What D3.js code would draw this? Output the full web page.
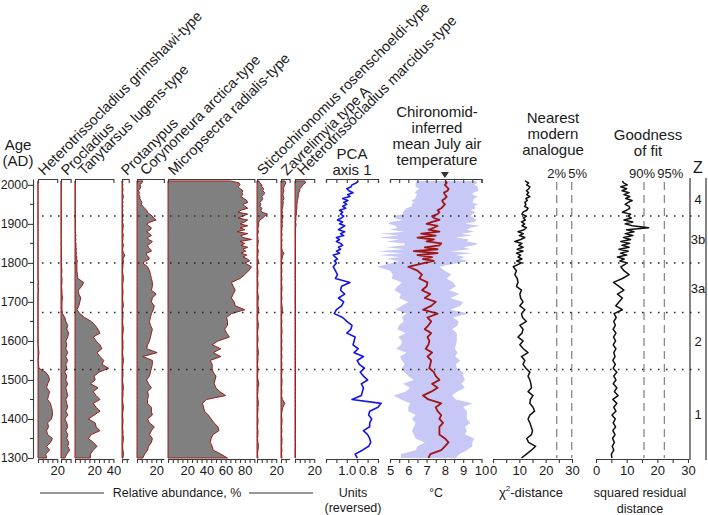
<!DOCTYPE html>
<html><head><meta charset="utf-8">
<script src="https://cdn.jsdelivr.net/npm/d3@7"></script>
<style>
body{margin:0;background:#fff;}
text{font-family:"Liberation Sans",Arial,Helvetica,sans-serif;fill:#1a1a1a;}
</style></head><body>
<svg id="chart" width="708" height="515"></svg>
<script>
// ---------------- DATA ----------------
const ages = [
1300,1310,1320,1330,1340,1350,1360,1370,1380,1390,
1400,1410,1420,1430,1440,1450,1460,1470,1480,1490,
1500,1510,1520,1530,1540,1550,1560,1570,1580,1590,
1600,1610,1620,1630,1640,1650,1660,1670,1680,1690,
1700,1710,1720,1730,1740,1750,1760,1770,1780,1790,
1800,1805,1810,1815,1820,1825,1830,1835,1840,1845,
1850,1855,1860,1865,1870,1875,1880,1885,1890,1895,
1900,1905,1910,1915,1920,1925,1930,1935,1940,1945,
1950,1955,1960,1965,1970,1975,1980,1985,1990,1995,
2000,2005,2010];

const taxaNames = ["Heterotrissocladius grimshawi-type","Procladius","Tanytarsus lugens-type",
  "Protanypus","Corynoneura arctica-type","Micropsectra radialis-type",
  "Stictochironomus rosenschoeldi-type","Zavrelimyia type A","Heterotrissocladius marcidus-type"];
const taxaMax = [20, 10, 40, 7, 28, 90, 20, 9, 20];

const grimshawi = [
9,8,12,9,13,15,10,9,11,10,
14,15,15,14,13,10,11,12,9,10,
12,11,8,1,0.5,0,0.5,1,0.5,0,
0,0,0,0,0,0,0,0,0,0,
0,0,0,0.5,0,0.5,0,0,0,0,
0,0,0,0,0,0,0,0,0,0,
0,0,0,0,0,0,0,0,0,0,
0,0,0,0,0,0,0,0,0,0,
0,0,0,0,0,0,0,0,0,0,
0,0,0];
const procladius = [
4,6,9,7,8,6,7,5,7,6,
4,7,5,7,6,5,7,6,5,7,
5,6,4,6,5,7,5,7,5,6,
5,7,8,6,7,5,4,1.5,1,1,
1,1.5,1,1,0.5,1,1,0.5,1,0.5,
0.5,0.3,0.5,0.3,0.5,0.3,0.5,0.3,0.5,0.3,
0.3,0.3,0.5,0.3,0.3,0.3,0.3,0.3,0.3,0.3,
0.3,0.3,0.3,0.3,0.3,0.3,0.3,0.3,0.3,0.3,
0.3,0.3,0.3,0.3,0.3,0.3,0.3,0.3,0.3,0.3,
0.3,0.3,0.3];
const tanytarsus = [
16,16,19,23,19,14,17,26,22,21,
14,20,26,22,19,26,22,19,24,16,
21,20,25,35,28,30,26,23,28,26,
22,19,26,24,21,17,10,5,2,4,
5,6,4,3.5,7,9,3,2.5,2,2,
2,2.5,1.5,2,1,1.5,1,1.5,1,1,
1,0.5,1,0.5,1,0.5,0.5,0.3,0.5,0.3,
0.3,0.3,0.3,0.3,0.3,0.3,0.3,0.3,0.3,0.3,
0.3,0.3,0.3,0.3,0.3,0.3,0.3,0.3,0.3,0.3,
0.3,0.3,0.3];
const protanypus = [
1,1.5,1,0.5,1,1.5,1,1,0.5,1,
1,0.5,1,1.5,1,0.5,1,1,1.5,1,
0.5,1,1,0.5,1,1.5,1,0.5,1,1,
1,0.5,1,1.5,1,0.5,1,1,0.5,1.5,
1,0.5,1,1,0.5,1,1.5,1,0.5,1,
1,1.5,1,2,3,1.5,1,0.5,1,1.5,
1,0.5,1,1,1.5,1,0.5,1,1,1.5,
1,0.5,1,0.5,1,1,0.5,1,0.5,1,
0.5,1,0.5,1,1.5,1,0.5,1,1,0.5,
1,0.5,1];
const corynoneura = [
6,8,11,12,15,16,13,15,18,13,
11,16,15,15,11,11,12,11,15,12,
10,13,14,15,16,16,6,21,10,11,
13,14,15,16,14,13,14,15,17,18,
15,16,20,15,16,16,15,14,13,11,
6,9,13,12,10,10,15,14,12,11,
14,16,12,11,15,13,10,14,15,12,
10,14,20,17,16,13,11,10,8,6,
4.5,5,4,3,3,2,2.5,1.5,3,4,
3,5,6];
const micropsectra = [
62,55,47,46,44,45,47,53,52,48,
45,42,38,37,36,40,60,54,50,48,
49,50,47,46,46,44,55,47,55,46,
52,64,61,59,62,62,61,66,80,70,
69,66,68,70,68,66,75,80,84,87,
80,85,83,78,82,76,81,78,83,76,
80,75,87,78,76,83,72,80,75,83,
75,80,83,73,78,83,73,76,83,80,
78,83,82,79,76,78,77,78,75,73,
75,74,65];
const sticto = [
1,0.5,1,1.5,1,0.5,1,1,0.5,1,
1,0.5,1,1,1.5,1,0.5,1,1,2,
1,0.5,1,1,0.5,1,1,1.5,1,0.5,
1,1,0.5,1,1.5,1,0.5,1,2,1,
1,1.5,1,0.5,1,1,0.5,1,1,0.5,
1,1.5,1,0.5,1,1,1.5,1,0.5,1,
1,1.5,1,1,0.5,1,1.5,1,1,2,
1.5,2,3,6,8,11,5,4,5,3,
4,3,5,6,5,7,8,6,7,5,
5,3,2];
const zavrelimyia = [
1,0.5,1,0.5,1,1,0.5,1,0.5,1,
1,0.5,1,2,4,1.5,0.5,1,0.5,1,
1,0.5,1,0.5,1,0.5,1,0.5,1,0.5,
1,0.5,1,1,0.5,1,0.5,1,1.5,1,
0.5,1,0.5,1,1,0.5,1,0.5,1,0.5,
1,0.5,1,1.5,2,3,1.5,1,0.5,1,
0.5,1,1,0.5,1,1,0.5,1,1,1.5,
1,1.5,1,2,1.5,1,1.5,1,1.5,2,
2,2.5,2,3,2.5,2,2.5,3,2.5,3,
4,5,4];
const marcidus = [
0.5,0.4,0.5,0.6,0.5,0.4,0.5,0.5,0.6,0.5,
0.5,0.4,0.5,0.6,0.5,0.5,0.4,0.5,0.6,0.5,
0.5,0.4,0.5,0.5,0.6,0.5,0.4,0.5,0.5,0.6,
0.5,0.4,0.5,0.6,0.5,0.5,0.4,0.5,0.6,0.5,
0.5,0.4,0.5,0.5,0.6,0.5,0.4,0.5,0.5,0.6,
0.5,0.4,0.5,0.6,0.5,0.5,0.4,0.5,0.6,0.5,
0.5,0.4,0.5,0.6,0.5,0.5,0.4,0.5,0.6,1,
1,0.5,1,1,1,1.5,1.5,1.5,2,2,
2,2.5,2.5,3,3.5,3.5,4,5,5,7,
8,11,10];

const pcaAxis1 = [
0.90,0.92,0.85,0.79,0.77,0.78,0.80,0.84,0.78,0.78,
0.76,0.79,0.78,0.70,0.67,0.95,0.86,0.85,0.84,0.86,
0.80,0.84,0.87,0.83,0.88,0.90,0.84,0.93,0.89,0.94,
0.93,0.92,1.00,0.96,0.95,1.00,1.04,1.12,1.10,1.05,
1.03,1.08,1.02,1.06,1.05,0.97,1.11,1.09,1.11,1.13,
1.10,1.12,1.09,1.11,1.13,1.07,1.10,1.06,1.08,1.04,
1.06,1.10,1.07,1.10,1.03,1.06,1.02,1.08,1.05,1.02,
1.07,1.04,1.09,1.05,1.03,1.06,1.04,1.07,1.01,1.04,
1.00,1.03,0.99,1.04,0.97,0.99,0.94,0.98,1.00,0.96,
0.95,0.91,0.89];

const julyTemp = [
7.1,7.2,7.8,8.0,8.2,8.0,7.7,7.7,7.7,7.9,
7.7,7.8,7.6,7.5,7.8,7.1,6.8,7.25,7.6,7.3,
7.7,7.5,7.4,7.15,7.2,7.25,7.05,7.3,6.95,7.1,
7.15,7.05,7.25,6.9,7.1,7.25,7.05,7.6,6.8,7.25,
7.5,6.9,7.2,6.75,7.0,7.05,6.6,6.75,6.5,6.0,
6.9,7.4,6.8,7.3,6.5,7.6,6.3,7.6,6.9,7.7,
7.8,7.0,7.4,6.5,7.5,6.7,7.7,7.1,7.4,7.6,
7.0,7.3,7.7,7.4,7.3,7.6,7.7,7.6,7.8,7.9,
8.0,7.9,7.85,8.0,8.1,8.0,7.95,8.15,8.2,8.1,
8.0,8.1,8.05];
const tempErr = [
1.5,1.6,1.4,1.5,1.3,1.6,1.4,1.5,1.4,1.5,
1.5,1.4,1.6,1.5,1.7,1.5,1.6,1.4,1.5,1.6,
1.4,1.5,1.6,1.5,1.4,1.6,1.5,1.4,1.6,1.5,
1.5,1.6,1.4,1.5,1.6,1.5,1.4,1.7,1.5,1.6,
1.5,1.4,1.6,1.5,1.6,1.4,1.5,1.6,1.5,1.7,
1.8,1.9,2.0,1.8,2.1,1.9,2.0,1.8,2.1,1.9,
2.0,2.2,1.9,2.1,2.0,2.2,1.9,2.1,2.0,2.3,
2.1,2.3,2.0,2.2,2.1,1.9,2.0,1.8,1.9,1.7,
1.8,1.6,1.7,1.6,1.7,1.5,1.6,1.7,1.6,1.7,
1.6,1.7,1.6];
const observedTemp = 8.0;

const nmaDist = [
10.8,12.7,14.6,16.2,13.5,12.8,14.6,15.0,14.5,14.0,
13.3,14.0,15.8,15.2,14.0,14.2,15.2,13.3,14.6,14.4,
14.0,13.3,14.0,12.5,11.4,12.1,10.8,13.3,11.5,10.2,
11.4,9.5,11.0,11.4,10.2,12.7,11.2,10.8,12.1,10.2,
11.4,10.5,10.2,10.8,8.9,9.5,9.2,8.3,8.9,7.7,
10.8,9.0,11.0,9.5,10.5,8.9,11.4,9.2,11.4,9.8,
11.0,8.3,10.5,12.1,10.0,11.5,9.5,11.8,12.7,11.0,
12.0,10.8,12.3,11.5,12.7,11.0,11.4,12.8,13.3,12.0,
12.5,12.1,13.0,12.5,14.0,12.8,13.5,12.7,13.6,14.0,
12.8,13.5,12.1];
const nmaCutoffs = [24.2, 29.9];
const nmaCutLabels = ["2%", "5%"];

const gofDist = [
5.2,5.0,5.8,5.3,6.0,5.4,6.2,5.5,6.4,5.6,
6.3,5.2,6.5,5.8,6.8,5.5,7.2,6.0,6.8,5.6,
6.5,5.8,6.8,5.6,6.3,5.5,6.2,5.8,6.5,5.6,
6.4,5.7,6.5,5.6,6.3,5.8,6.6,5.9,8.6,6.45,
7.5,8.6,7.0,9.1,7.5,5.7,8.6,10.8,9.1,8.1,
10.2,7.8,9.2,7.0,10.0,8.0,10.5,7.5,10.8,8.5,
11.0,8.1,11.3,9.0,12.0,9.5,12.4,10.0,17.2,11.8,
9.5,12.0,9.1,11.5,10.5,11.3,8.6,10.0,11.0,10.8,
9.5,10.5,11.8,9.7,11.0,9.1,10.8,8.5,10.0,8.1,
10.2,9.0,8.6];
const gofCutoffs = [15.65, 22.3];
const gofCutLabels = ["90%", "95%"];

const zoneBounds = [1527, 1673, 1800, 1920];
const zoneNames = ["1", "2", "3a", "3b", "4"];
const yTicks = [1300,1400,1500,1600,1700,1800,1900,2000];
const yMinorTicks = [1350,1450,1550,1650,1750,1850,1950];

// ---------------- LAYOUT ----------------
const FONT = '"Liberation Sans",Arial,Helvetica,sans-serif';
const svg = d3.select("#chart");
const yTop = 179, yBot = 459;
const y = d3.scaleLinear().domain([1300, 2015]).range([458, 179]);
const AXC = "#3a3a3a";
const rowsOf = vals => ages.map((a, i) => ({age: a, v: vals[i]}));

function styleAxis(g, fs) {
  g.attr("font-family", FONT).attr("font-size", fs || 13).attr("color", AXC);
  g.selectAll("path,line").attr("stroke-width", 1.1);
}

// Y axis
const ya = svg.append("g").attr("transform", "translate(33,0)")
  .call(d3.axisLeft(y).tickValues(yTicks).tickSize(5).tickSizeOuter(0).tickFormat(d3.format("d")));
styleAxis(ya, 12.3);
ya.selectAll("text").attr("x", -5);
ya.selectAll(".minor").data(yMinorTicks).enter().append("line")
  .attr("x1", -3).attr("x2", 0).attr("y1", d => y(d)).attr("y2", d => y(d))
  .attr("stroke", AXC).attr("stroke-width", 1.1);

svg.append("text").attr("x", 18).attr("y", 150).attr("text-anchor", "middle").attr("font-size", 15).text("Age");
svg.append("text").attr("x", 18).attr("y", 166).attr("text-anchor", "middle").attr("font-size", 15).text("(AD)");

// Taxa panels
const taxaVals = [grimshawi, procladius, tanytarsus, protanypus, corynoneura, micropsectra, sticto, zavrelimyia, marcidus];
const taxaX0 = [38, 61, 75, 122, 137, 168, 257, 281, 295];
const labelX = [44, 67, 84, 127, 146, 174, 263, 287, 303];
const pxPct = 0.96;

taxaVals.forEach((vals, k) => {
  const mx = taxaMax[k];
  const xs = d3.scaleLinear().domain([0, mx]).range([taxaX0[k], taxaX0[k] + mx * pxPct]);
  const area = d3.area().y(d => y(d.age)).x0(xs(0)).x1(d => xs(d.v));
  svg.append("path").datum(rowsOf(vals)).attr("d", area)
    .attr("fill", "#808080").attr("stroke", "#9a1b1b").attr("stroke-width", 1).attr("stroke-linejoin", "round");
  const ta = svg.append("g").attr("transform", `translate(0,${yTop})`)
    .call(d3.axisTop(xs).tickValues([]).tickSizeOuter(-4));
  styleAxis(ta);
  const ba = svg.append("g").attr("transform", `translate(0,${yBot})`)
    .call(d3.axisBottom(xs).tickValues(d3.range(0, mx + 0.01, 5)).tickSize(4).tickSizeOuter(0)
      .tickFormat(d => (d > 0 && d % 20 === 0) ? d : ""));
  styleAxis(ba, 13);
  svg.append("text").attr("transform", `translate(${labelX[k]},176) rotate(-45)`)
    .attr("font-size", 14.5).text(taxaNames[k]);
});

// PCA
const xP = d3.scaleLinear().domain([1.2, 0.7]).range([326, 378]);
const pcaTicks = [1.2, 1.1, 1.0, 0.9, 0.8, 0.7];
svg.append("path").datum(rowsOf(pcaAxis1))
  .attr("d", d3.line().x(d => xP(d.v)).y(d => y(d.age)))
  .attr("fill", "none").attr("stroke", "#1414e6").attr("stroke-width", 1.6).attr("stroke-linejoin", "round");
styleAxis(svg.append("g").attr("transform", `translate(0,${yTop})`)
  .call(d3.axisTop(xP).tickValues(pcaTicks).tickSize(-4).tickFormat("")));
styleAxis(svg.append("g").attr("transform", `translate(0,${yBot})`)
  .call(d3.axisBottom(xP).tickValues(pcaTicks).tickSize(4).tickSizeOuter(0)
    .tickFormat(d => (Math.abs(d - 1.0) < 1e-6 || Math.abs(d - 0.8) < 1e-6) ? d.toFixed(1) : "")), 13);

// Temperature
const xT = d3.scaleLinear().domain([5, 10]).range([390, 481.5]);
const tRows = ages.map((a, i) => ({age: a, v: julyTemp[i], e: tempErr[i]}));
svg.append("path").datum(tRows)
  .attr("d", d3.area().y(d => y(d.age)).x0(d => xT(d.v - d.e)).x1(d => xT(d.v + d.e)))
  .attr("fill", "#c8c8f6").attr("stroke", "none");
svg.append("path").datum(tRows)
  .attr("d", d3.line().x(d => xT(d.v)).y(d => y(d.age)))
  .attr("fill", "none").attr("stroke", "#a01414").attr("stroke-width", 1.8).attr("stroke-linejoin", "round");
const tTicks = d3.range(5, 10.01, 0.5);
styleAxis(svg.append("g").attr("transform", `translate(0,${yTop})`)
  .call(d3.axisTop(xT).tickValues(tTicks).tickSize(-4).tickFormat("")));
styleAxis(svg.append("g").attr("transform", `translate(0,${yBot})`)
  .call(d3.axisBottom(xT).tickValues(tTicks).tickSize(4).tickSizeOuter(0)
    .tickFormat(d => Number.isInteger(d) ? d : "")), 13);
const ox = xT(observedTemp);
svg.append("path").attr("d", `M${ox - 4},${yTop - 7}L${ox + 4},${yTop - 7}L${ox},${yTop - 1}Z`).attr("fill", "#333");

// NMA
const xN = d3.scaleLinear().domain([0, 30]).range([493, 572]);
nmaCutoffs.forEach(c => svg.append("line").attr("x1", xN(c)).attr("x2", xN(c)).attr("y1", 182).attr("y2", 458)
  .attr("stroke", "#888").attr("stroke-width", 1.3).attr("stroke-dasharray", "8,5"));
svg.append("path").datum(rowsOf(nmaDist))
  .attr("d", d3.line().x(d => xN(d.v)).y(d => y(d.age)))
  .attr("fill", "none").attr("stroke", "#111").attr("stroke-width", 1.5).attr("stroke-linejoin", "round");
styleAxis(svg.append("g").attr("transform", `translate(0,${yBot})`)
  .call(d3.axisBottom(xN).tickValues(d3.range(0, 30.1, 5)).tickSize(4).tickSizeOuter(0)
    .tickFormat(d => d % 10 === 0 ? d : "")), 13);
svg.append("text").attr("x", xN(nmaCutoffs[0])).attr("y", 178).attr("text-anchor", "middle").attr("font-size", 13).text(nmaCutLabels[0]);
svg.append("text").attr("x", xN(nmaCutoffs[1]) + 6).attr("y", 178).attr("text-anchor", "middle").attr("font-size", 13).text(nmaCutLabels[1]);

// GOF
const xG = d3.scaleLinear().domain([0, 30]).range([596, 688]);
gofCutoffs.forEach(c => svg.append("line").attr("x1", xG(c)).attr("x2", xG(c)).attr("y1", 182).attr("y2", 458)
  .attr("stroke", "#888").attr("stroke-width", 1.3).attr("stroke-dasharray", "8,5"));
svg.append("path").datum(rowsOf(gofDist))
  .attr("d", d3.line().x(d => xG(d.v)).y(d => y(d.age)))
  .attr("fill", "none").attr("stroke", "#111").attr("stroke-width", 1.5).attr("stroke-linejoin", "round");
styleAxis(svg.append("g").attr("transform", `translate(0,${yBot})`)
  .call(d3.axisBottom(xG).tickValues(d3.range(0, 30.1, 5)).tickSize(4).tickSizeOuter(0)
    .tickFormat(d => d % 10 === 0 ? d : "")), 13);
svg.append("text").attr("x", xG(gofCutoffs[0]) - 2).attr("y", 178).attr("text-anchor", "middle").attr("font-size", 13).text(gofCutLabels[0]);
svg.append("text").attr("x", xG(gofCutoffs[1]) + 6).attr("y", 178).attr("text-anchor", "middle").attr("font-size", 13).text(gofCutLabels[1]);

// Zone column
[690, 706].forEach(x => svg.append("line").attr("x1", x).attr("x2", x).attr("y1", 178).attr("y2", 460)
  .attr("stroke", "#777").attr("stroke-width", 1.8));
svg.append("text").attr("x", 698).attr("y", 173).attr("text-anchor", "middle").attr("font-size", 16).text("Z");
const zEdges = [1300].concat(zoneBounds, [2010]);
zoneNames.forEach((z, i) => {
  svg.append("text").attr("x", 698).attr("y", y((zEdges[i] + zEdges[i + 1]) / 2) + 5)
    .attr("text-anchor", "middle").attr("font-size", 13).attr("fill", "#333").text(z);
});

// Zone dotted lines
zoneBounds.forEach(b => svg.append("line").attr("x1", 42).attr("x2", 706).attr("y1", y(b)).attr("y2", y(b))
  .attr("stroke", "#222").attr("stroke-width", 1.5).attr("stroke-dasharray", "1.5,6.5"));

// Titles
function tlines(x, ys, lines, fs) {
  lines.forEach((t, i) => svg.append("text").attr("x", x).attr("y", ys[i]).attr("text-anchor", "middle")
    .attr("font-size", fs).text(t));
}
tlines(352, [159, 175], ["PCA", "axis 1"], 15);
tlines(437, [117, 133, 149, 165], ["Chironomid-", "inferred", "mean July air", "temperature"], 15);
tlines(553, [123, 139, 155], ["Nearest", "modern", "analogue"], 15);
tlines(648, [140, 156], ["Goodness", "of fit"], 15);

// Bottom labels
svg.append("text").attr("x", 177).attr("y", 497).attr("text-anchor", "middle").attr("font-size", 12.5).text("Relative abundance, %");
svg.append("line").attr("x1", 40).attr("x2", 104).attr("y1", 493).attr("y2", 493).attr("stroke", "#333");
svg.append("line").attr("x1", 249).attr("x2", 313).attr("y1", 493).attr("y2", 493).attr("stroke", "#333");
tlines(353, [497, 512], ["Units", "(reversed)"], 12.5);
tlines(436, [497], ["°C"], 12.5);
const chi = svg.append("text").attr("x", 531).attr("y", 497).attr("text-anchor", "middle").attr("font-size", 13);
chi.append("tspan").text("χ");
chi.append("tspan").attr("font-size", 8).attr("dy", -6).text("2");
chi.append("tspan").attr("dy", 6).text("-distance");
tlines(640, [497, 513], ["squared residual", "distance"], 12.5);
</script>
</body></html>
